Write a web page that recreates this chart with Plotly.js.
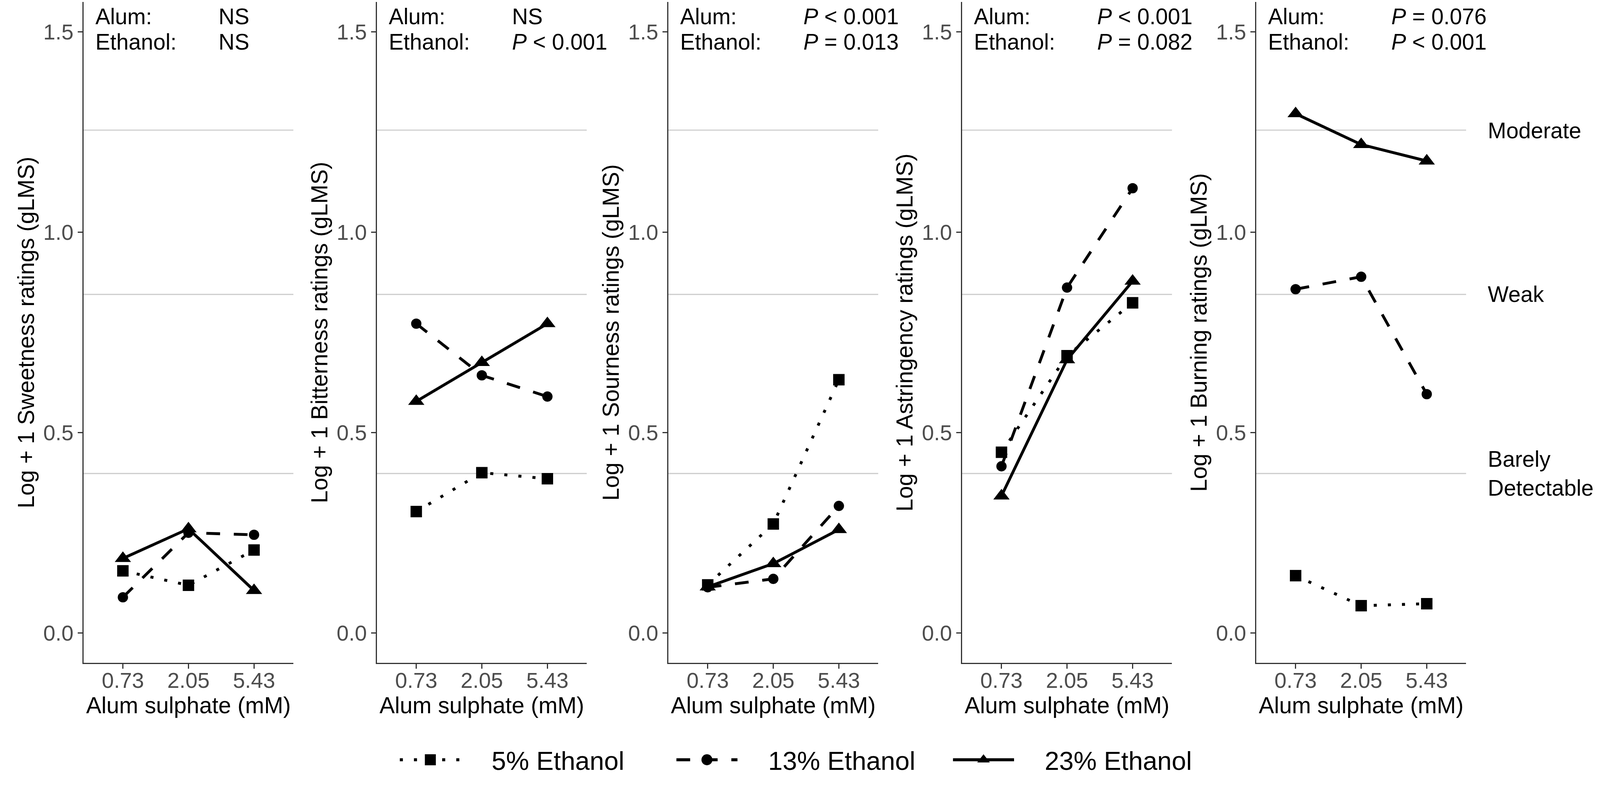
<!DOCTYPE html>
<html>
<head>
<meta charset="utf-8">
<script src="https://cdn.plot.ly/plotly-3.0.1.min.js"></script>
<style>
html, body {margin: 0; padding: 0; background: #fff; overflow: hidden;}
#taste_plot {transform-origin: 0 0;}
</style>
</head>
<body>
<div id="taste_plot"></div>
<script>
// alum sulphate levels (mM), one category per point
var alum = ['0.73', '2.05', '5.43'];

// Log + 1 gLMS ratings, one array per ethanol level
var sweet_5 = [0.155, 0.119, 0.207];
var sweet_13 = [0.089, 0.250, 0.245];
var sweet_23 = [0.186, 0.260, 0.106];

var bitter_5 = [0.303, 0.400, 0.385];
var bitter_13 = [0.772, 0.643, 0.590];
var bitter_23 = [0.578, 0.675, 0.772];

var sour_5 = [0.120, 0.272, 0.632];
var sour_13 = [0.114, 0.135, 0.317];
var sour_23 = [0.115, 0.173, 0.258];

var astr_5 = [0.451, 0.692, 0.824];
var astr_13 = [0.416, 0.862, 1.110];
var astr_23 = [0.342, 0.682, 0.878];

var burn_5 = [0.143, 0.068, 0.073];
var burn_13 = [0.858, 0.889, 0.596];
var burn_23 = [1.296, 1.219, 1.178];

var attributes = ['Sweetness', 'Bitterness', 'Sourness', 'Astringency', 'Burning'];
var ethanol_names = ['5% Ethanol', '13% Ethanol', '23% Ethanol'];
var alum_p = ['NS', 'NS', '<i>P</i> &lt; 0.001', '<i>P</i> &lt; 0.001', '<i>P</i> = 0.076'];
var ethanol_p = ['NS', '<i>P</i> &lt; 0.001', '<i>P</i> = 0.013', '<i>P</i> = 0.082', '<i>P</i> &lt; 0.001'];

// gLMS reference lines (log scale) and their labels
var glms_levels = [0.398, 0.845, 1.255];
var glms_names = ['Barely<br>Detectable', 'Weak', 'Moderate'];

var ratings = [
    [sweet_5, sweet_13, sweet_23],
    [bitter_5, bitter_13, bitter_23],
    [sour_5, sour_13, sour_23],
    [astr_5, astr_13, astr_23],
    [burn_5, burn_13, burn_23]
];

// styling
var W = 4194, H = 2043;
var font = 'Liberation Sans, Arial, sans-serif';
var panel_left = [219, 988, 1752, 2522, 3293];
var panel_w = 550;
var y_dom = [(H - 1738) / H, (H - 5) / H];
var dashes = ['8px,29px', '36px,36px', 'solid'];
var symbols = ['square', 'circle', 'triangle-up'];
var sizes = [30, 27, 37];
var key_pad = '\u00A0\u00A0\u00A0\u00A0';  // gap between legend key and its label

var data_plot = [];
var layout = {
    width: W, height: H,
    margin: {l: 0, r: 0, t: 0, b: 0},
    paper_bgcolor: 'white', plot_bgcolor: 'white',
    font: {family: font, color: 'black'},
    showlegend: true,
    legend: {
        orientation: 'h', x: 0.508, xanchor: 'center', y: 0.025, yanchor: 'middle',
        font: {size: 68, color: 'black'},
        itemwidth: 160, entrywidth: 550, entrywidthmode: 'pixels'
    },
    shapes: [],
    annotations: []
};

for (var i = 0; i < 5; i++) {
    var sfx = i === 0 ? '' : String(i + 1);
    for (var j = 0; j < 3; j++) {
        data_plot.push({
            x: alum,
            y: ratings[i][j],
            xaxis: 'x' + sfx,
            yaxis: 'y' + sfx,
            name: key_pad + ethanol_names[j],
            legendgroup: ethanol_names[j],
            showlegend: i === 0,
            type: 'scatter',
            mode: 'lines+markers',
            line: {color: 'black', width: 7.5, dash: dashes[j]},
            marker: {color: 'black', symbol: symbols[j], size: sizes[j]}
        });
    }

    layout['xaxis' + sfx] = {
        domain: [panel_left[i] / W, (panel_left[i] + panel_w) / W],
        anchor: 'y' + sfx,
        type: 'category',
        categoryarray: alum,
        range: [-0.6, 2.6],
        showline: true, linecolor: '#333', linewidth: 3,
        ticks: 'outside', ticklen: 12, tickwidth: 3, tickcolor: '#333',
        ticklabelstandoff: -18,
        tickfont: {size: 57, color: '#4D4D4D'},
        showgrid: false, zeroline: false,
        title: {text: 'Alum sulphate (mM)', font: {size: 60, color: 'black'}, standoff: 12}
    };
    layout['yaxis' + sfx] = {
        domain: y_dom,
        anchor: 'x' + sfx,
        range: [-0.075, 1.575],
        tickvals: [0, 0.5, 1, 1.5],
        tickformat: '.1f',
        showline: true, linecolor: '#333', linewidth: 3,
        ticks: 'outside', ticklen: 12, tickwidth: 3, tickcolor: '#333',
        tickfont: {size: 57, color: '#4D4D4D'},
        showgrid: false, zeroline: false,
        title: {text: 'Log + 1 ' + attributes[i] + ' ratings (gLMS)', font: {size: 60, color: 'black'}, standoff: 5}
    };

    for (var k = 0; k < glms_levels.length; k++) {
        layout.shapes.push({
            type: 'line', layer: 'below',
            xref: 'x' + sfx + ' domain', x0: 0, x1: 1,
            yref: 'y' + sfx, y0: glms_levels[k], y1: glms_levels[k],
            line: {color: '#CCCCCC', width: 3}
        });
    }

    layout.annotations.push(
        {xref: 'x' + sfx + ' domain', yref: 'paper', x: 0.052, y: 1 - 43 / H, xanchor: 'left', yanchor: 'middle',
         text: 'Alum:', showarrow: false, font: {size: 58, color: 'black'}},
        {xref: 'x' + sfx + ' domain', yref: 'paper', x: 0.052, y: 1 - 109 / H, xanchor: 'left', yanchor: 'middle',
         text: 'Ethanol:', showarrow: false, font: {size: 58, color: 'black'}},
        {xref: 'x' + sfx + ' domain', yref: 'paper', x: 0.64, y: 1 - 43 / H, xanchor: 'left', yanchor: 'middle',
         text: alum_p[i], showarrow: false, font: {size: 58, color: 'black'}},
        {xref: 'x' + sfx + ' domain', yref: 'paper', x: 0.64, y: 1 - 109 / H, xanchor: 'left', yanchor: 'middle',
         text: ethanol_p[i], showarrow: false, font: {size: 58, color: 'black'}}
    );
}

// gLMS labels on the right of the last panel
for (var k = 0; k < glms_levels.length; k++) {
    layout.annotations.push({
        xref: 'paper', yref: 'y5', x: 3898 / W, y: glms_levels[k],
        xanchor: 'left', yanchor: 'middle', align: 'left',
        text: glms_names[k], showarrow: false, font: {size: 58, color: 'black'}
    });
}

Plotly.newPlot('taste_plot', data_plot, layout, {displayModeBar: false, staticPlot: true})
    .then(function (gd) {
        // plotly caps legend symbol sizes; bring them up to the plotted ones
        gd.querySelectorAll('.legend .legendpoints path').forEach(function (p) {
            var t = p.getAttribute('transform') || '';
            p.setAttribute('transform', t + ' scale(1.8)');
        });
        gd.querySelectorAll('.legend .legendlines path').forEach(function (p) {
            p.style.strokeWidth = '8px';
        });
    });

// fit the fixed-size figure into the window if the viewport is smaller
var fit = Math.min(window.innerWidth / W, window.innerHeight / H);
if (fit < 1) {
    document.getElementById('taste_plot').style.transform = 'scale(' + fit + ')';
}
</script>
</body>
</html>
